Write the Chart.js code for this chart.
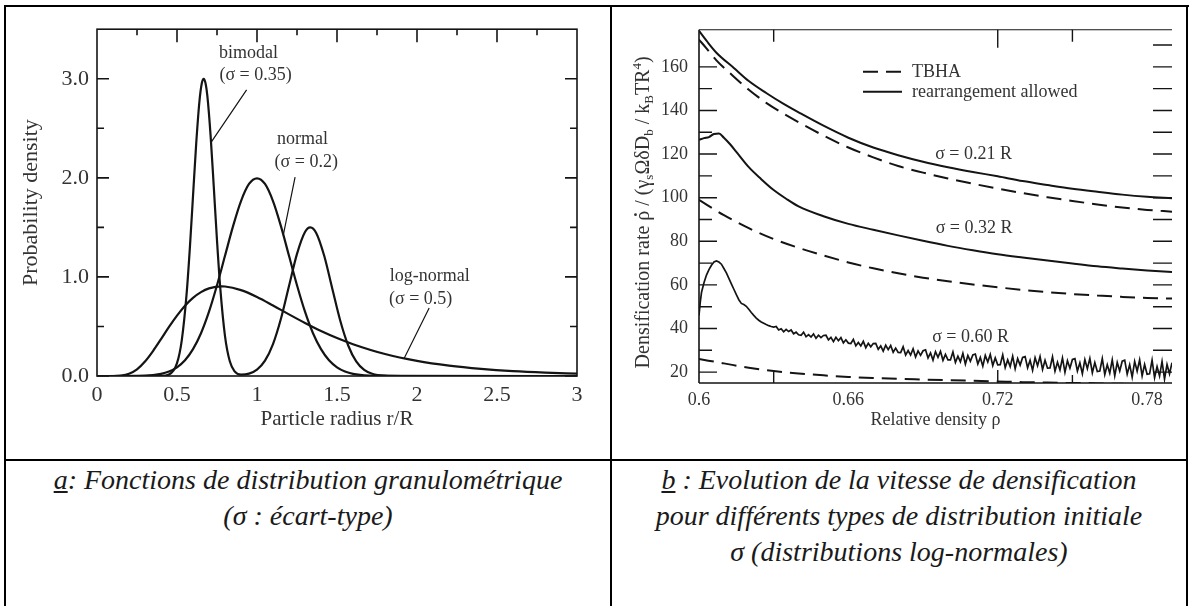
<!DOCTYPE html>
<html>
<head>
<meta charset="utf-8">
<script src="https://cdn.jsdelivr.net/npm/chart.js@4.4.0/dist/chart.umd.min.js"></script>
<style>
  html, body { margin: 0; padding: 0; background: #fff; }
  #page { position: relative; width: 1191px; height: 606px; overflow: hidden; background: #fff; }
  .rule { position: absolute; background: #000; }
  .cell { position: absolute; }
  .caption {
    position: absolute; top: 462px;
    font-family: 'Liberation Serif', serif; font-style: italic;
    font-size: 28px; line-height: 36px; color: #1a1a1a; text-align: center;
  }
</style>
</head>
<body>
<div id="page">
  <div class="rule" style="left:4px; top:5px; width:1185px; height:2px"></div>
  <div class="rule" style="left:4px; top:5px; width:2px; height:601px"></div>
  <div class="rule" style="left:610px; top:5px; width:2px; height:601px"></div>
  <div class="rule" style="left:1186px; top:5px; width:2px; height:601px"></div>
  <div class="rule" style="left:4px; top:459px; width:1184px; height:2px"></div>

  <div class="cell" style="left:6px; top:8px"><canvas id="chartA" width="604" height="451"></canvas></div>
  <div class="cell" style="left:612px; top:8px"><canvas id="chartB" width="574" height="451"></canvas></div>

  <div class="caption" style="left:6px; width:604px"><u>a</u>: Fonctions de distribution granulométrique<br>(σ : écart-type)</div>
  <div class="caption" style="left:612px; width:574px"><u>b</u> : Evolution de la vitesse de densification<br>pour différents types de distribution initiale<br>σ (distributions log-normales)</div>
</div>

<script>
// ---- chart a : particle size distributions ----
const radiusBimodal = [0, 0.3, 0.4, 0.45, 0.5, 0.53, 0.56, 0.58, 0.6, 0.62, 0.64, 0.655, 0.667, 0.678, 0.69, 0.71, 0.73, 0.75, 0.77, 0.8, 0.83, 0.86, 0.9, 0.95, 1.0, 1.05, 1.1, 1.15, 1.2, 1.25, 1.3, 1.333, 1.37, 1.42, 1.47, 1.52, 1.57, 1.62, 1.67, 1.72, 1.8, 1.9, 3.0];
const densityBimodal = [0, 0, 0.001, 0.015, 0.13, 0.363, 0.828, 1.283, 1.815, 2.345, 2.768, 2.954, 3.0, 2.957, 2.821, 2.426, 1.906, 1.368, 0.897, 0.403, 0.148, 0.047, 0.014, 0.024, 0.065, 0.155, 0.322, 0.58, 0.908, 1.233, 1.454, 1.5, 1.444, 1.213, 0.885, 0.56, 0.308, 0.147, 0.061, 0.022, 0.003, 0, 0];

const radiusNormal = [0, 0.3, 0.4, 0.45, 0.5, 0.55, 0.6, 0.65, 0.7, 0.75, 0.8, 0.85, 0.9, 0.95, 1.0, 1.05, 1.1, 1.15, 1.2, 1.25, 1.3, 1.35, 1.4, 1.45, 1.5, 1.55, 1.6, 1.7, 1.8, 3.0];
const densityNormal = [0, 0.004, 0.022, 0.046, 0.088, 0.159, 0.271, 0.432, 0.649, 0.916, 1.213, 1.51, 1.765, 1.938, 1.995, 1.938, 1.765, 1.51, 1.213, 0.916, 0.649, 0.432, 0.271, 0.159, 0.088, 0.046, 0.022, 0.004, 0.001, 0];

const radiusLogNormal = [0, 0.1, 0.15, 0.2, 0.25, 0.3, 0.35, 0.4, 0.45, 0.5, 0.55, 0.6, 0.65, 0.7, 0.78, 0.8, 0.9, 1.0, 1.1, 1.2, 1.3, 1.4, 1.5, 1.6, 1.8, 2.0, 2.2, 2.4, 2.6, 2.8, 3.0];
const densityLogNormal = [0, 0.0002, 0.004, 0.023, 0.068, 0.147, 0.252, 0.372, 0.496, 0.61, 0.71, 0.789, 0.847, 0.884, 0.904, 0.903, 0.867, 0.798, 0.712, 0.622, 0.535, 0.454, 0.383, 0.321, 0.222, 0.153, 0.105, 0.072, 0.049, 0.034, 0.024];

const aXTicks = [0, 0.5, 1, 1.5, 2, 2.5, 3];
const aXTickLabels = ['0', '0.5', '1', '1.5', '2', '2.5', '3'];
const aYTicks = [0, 1, 2, 3];
const aYTickLabels = ['0.0', '1.0', '2.0', '3.0'];

// ---- chart b : densification rate ----
const rhoA = [0.600, 0.603, 0.607, 0.614, 0.620, 0.627, 0.634, 0.641, 0.650, 0.660, 0.670, 0.680, 0.690, 0.700, 0.710, 0.720, 0.730, 0.740, 0.750, 0.760, 0.770, 0.780, 0.790];
const rateRearr021 = [176.5, 172, 166.5, 159.5, 153.5, 148, 143, 138.5, 133, 127.5, 123, 119.5, 116.5, 114, 111.8, 109.8, 107.6, 105.8, 104.1, 102.7, 101.4, 100.4, 99.7];
const rateTbha021 = [172.5, 168.5, 163, 155.5, 149.5, 143.5, 138.5, 134, 128.5, 123, 118.5, 114.5, 111.5, 108.8, 106.4, 104.2, 102.1, 100.2, 98.5, 96.9, 95.5, 94.4, 93.6];

const rhoB = [0.600, 0.602, 0.604, 0.606, 0.608, 0.610, 0.6125, 0.615, 0.620, 0.625, 0.630, 0.635, 0.640, 0.650, 0.660, 0.670, 0.680, 0.690, 0.700, 0.710, 0.720, 0.730, 0.740, 0.750, 0.760, 0.770, 0.780, 0.790];
const rateRearr032 = [126.5, 127.3, 127.8, 129.2, 129.4, 127.5, 124.5, 121, 114, 108.5, 103.5, 99.5, 96, 91.5, 88, 85.3, 82.7, 80.2, 77.9, 75.9, 74.1, 72.6, 71.2, 69.8, 68.5, 67.5, 66.6, 65.9];

const rhoC = [0.600, 0.610, 0.620, 0.630, 0.640, 0.650, 0.660, 0.670, 0.680, 0.690, 0.700, 0.710, 0.720, 0.730, 0.740, 0.750, 0.760, 0.770, 0.780, 0.790];
const rateTbha032 = [99, 92, 86, 81, 77, 73.5, 70.3, 67.6, 65.3, 63.3, 61.7, 60.2, 58.9, 57.7, 56.7, 55.8, 55.1, 54.5, 54.0, 53.7];
const rateTbha060 = [26, 24, 22, 20.5, 19.4, 18.5, 17.8, 17.3, 16.9, 16.6, 16.3, 16.0, 15.7, 15.4, 15.2, 15.0, 14.8, 14.6, 14.5, 14.4];

const rhoNoisy = [0.600, 0.6005, 0.601, 0.602, 0.603, 0.604, 0.605, 0.606, 0.607, 0.608, 0.609, 0.610, 0.611, 0.612, 0.613, 0.614, 0.615, 0.616, 0.617, 0.618, 0.619, 0.620, 0.621, 0.622, 0.623, 0.624, 0.625, 0.626, 0.627, 0.628, 0.629, 0.630,
  0.631, 0.632, 0.633, 0.634, 0.635, 0.636, 0.637, 0.638, 0.639, 0.640,
  0.641, 0.642, 0.643, 0.644, 0.645, 0.646, 0.647, 0.648, 0.649, 0.650,
  0.651, 0.652, 0.653, 0.654, 0.655, 0.656, 0.657, 0.658, 0.659, 0.660,
  0.661, 0.662, 0.663, 0.664, 0.665, 0.666, 0.667, 0.668, 0.669, 0.670,
  0.671, 0.672, 0.673, 0.674, 0.675, 0.676, 0.677, 0.678, 0.679, 0.680,
  0.681, 0.682, 0.683, 0.684, 0.685, 0.686, 0.687, 0.688, 0.689, 0.690,
  0.691, 0.692, 0.693, 0.694, 0.695, 0.696, 0.697, 0.698, 0.699, 0.700,
  0.701, 0.702, 0.703, 0.704, 0.705, 0.706, 0.707, 0.708, 0.709, 0.710,
  0.711, 0.712, 0.713, 0.714, 0.715, 0.716, 0.717, 0.718, 0.719, 0.720,
  0.721, 0.722, 0.723, 0.724, 0.725, 0.726, 0.727, 0.728, 0.729, 0.730,
  0.731, 0.732, 0.733, 0.734, 0.735, 0.736, 0.737, 0.738, 0.739, 0.740,
  0.741, 0.742, 0.743, 0.744, 0.745, 0.746, 0.747, 0.748, 0.749, 0.750,
  0.751, 0.752, 0.753, 0.754, 0.755, 0.756, 0.757, 0.758, 0.759, 0.760,
  0.761, 0.762, 0.763, 0.764, 0.765, 0.766, 0.767, 0.768, 0.769, 0.770,
  0.771, 0.772, 0.773, 0.774, 0.775, 0.776, 0.777, 0.778, 0.779, 0.780,
  0.781, 0.782, 0.783, 0.784, 0.785, 0.786, 0.787, 0.788, 0.789, 0.790];
const rateRearr060 = [46, 52, 56.5, 61, 64.5, 67, 69, 70.5, 71, 70.5, 69.5, 67.5, 65.5, 63, 60.5, 58, 55.5, 53.2, 51.5, 51, 50.2, 48.8, 47.3, 46, 44.8, 43.8, 43, 42.4, 41.8, 41.3, 40.9, 40.6,
  40.9, 39.3, 39.9, 38.5, 39.6, 38.6, 39.3, 37.6, 38.3, 37.1,
  36.9, 38.3, 36.2, 37.2, 36.1, 37.5, 35.5, 36.9, 35.8, 36.8,
  36.9, 34.8, 35.9, 34.0, 36.0, 34.4, 35.8, 33.4, 34.8, 33.3,
  33.1, 35.0, 32.1, 33.6, 32.0, 34.1, 31.2, 33.2, 31.6, 33.1,
  33.2, 30.5, 32.0, 29.6, 32.3, 30.3, 32.2, 29.1, 31.0, 29.0,
  28.9, 31.6, 27.8, 29.9, 27.8, 30.7, 26.9, 29.7, 27.7, 29.8,
  30.2, 26.5, 28.8, 25.5, 29.4, 26.8, 29.5, 25.4, 28.1, 25.6,
  25.6, 29.2, 24.4, 27.3, 24.7, 28.6, 23.7, 27.6, 25.0, 27.9,
  28.3, 23.7, 26.7, 22.7, 27.6, 24.6, 28.1, 23.0, 26.5, 23.3,
  23.4, 27.9, 22.1, 25.6, 22.5, 27.3, 21.5, 26.2, 23.2, 26.7,
  27.1, 22.0, 25.4, 20.8, 26.6, 22.9, 27.1, 21.2, 25.4, 21.8,
  21.9, 27.0, 20.4, 24.5, 21.0, 26.5, 19.9, 25.2, 21.8, 25.8,
  26.2, 20.5, 24.3, 19.3, 25.7, 21.6, 26.3, 19.7, 24.4, 20.3,
  20.5, 26.2, 18.9, 23.4, 19.5, 25.6, 18.3, 24.4, 20.5, 25.0,
  25.5, 19.1, 23.4, 17.7, 24.9, 20.4, 25.6, 18.3, 23.5, 19.0,
  19.2, 25.5, 17.4, 22.5, 18.2, 24.9, 16.8, 23.5, 19.2, 24.3];

const bXTicks = [0.6, 0.66, 0.72, 0.78];
const bXTickLabels = ['0.6', '0.66', '0.72', '0.78'];
const bYTicks = [20, 40, 60, 80, 100, 120, 140, 160];
const bYTickLabels = ['20', '40', '60', '80', '100', '120', '140', '160'];

// ---------------------------------------------------------------
Chart.defaults.font.family = "'Liberation Serif', 'Times New Roman', serif";
Chart.defaults.color = '#333';
const INK = '#141414';
const TXT = '#333';
const pairs = (xs, ys) => xs.map((x, i) => ({ x: x, y: ys[i] }));

function line(ctx, x1, y1, x2, y2) { ctx.moveTo(x1, y1); ctx.lineTo(x2, y2); }

// annotation placement (data coordinates)
const notesA = [
  { text: 'bimodal', x: 0.762, y: 3.26 },
  { text: '(σ = 0.35)', x: 0.765, y: 3.04 },
  { text: 'normal', x: 1.125, y: 2.385 },
  { text: '(σ = 0.2)', x: 1.11, y: 2.155 },
  { text: 'log-normal', x: 1.83, y: 1.01 },
  { text: '(σ = 0.5)', x: 1.825, y: 0.77 }
];
const leadersA = [
  [0.935, 2.887, 0.716, 2.366],
  [1.238, 2.007, 1.164, 1.42],
  [2.076, 0.686, 1.92, 0.18]
];

const decorA = {
  id: 'decorA',
  afterDatasetsDraw(chart) {
    const { ctx, chartArea: a } = chart;
    const sx = chart.scales.x, sy = chart.scales.y;
    ctx.save();
    ctx.strokeStyle = INK;
    ctx.lineWidth = 1.6;
    ctx.strokeRect(a.left, a.top, a.right - a.left, a.bottom - a.top);
    ctx.beginPath();
    [0, 1, 2, 3].forEach(v => {
      const p = sy.getPixelForValue(v);
      line(ctx, a.left, p, a.left + 12, p);
      line(ctx, a.right, p, a.right - 12, p);
    });
    [0.5, 1.5, 2.5].forEach(v => {
      const p = sy.getPixelForValue(v);
      line(ctx, a.left, p, a.left + 7, p);
      line(ctx, a.right, p, a.right - 7, p);
    });
    [0.5, 1, 1.5, 2, 2.5].forEach(v => {
      const p = sx.getPixelForValue(v);
      line(ctx, p, a.top, p, a.top + 13);
    });
    [0.25, 0.75, 1.25, 1.75, 2.25, 2.75].forEach(v => {
      const p = sx.getPixelForValue(v);
      line(ctx, p, a.top, p, a.top + 6);
    });
    ctx.stroke();

    ctx.lineWidth = 1.2;
    ctx.beginPath();
    leadersA.forEach(l => line(ctx, sx.getPixelForValue(l[0]), sy.getPixelForValue(l[1]),
      sx.getPixelForValue(l[2]), sy.getPixelForValue(l[3])));
    ctx.stroke();

    ctx.fillStyle = TXT;
    ctx.font = "18px 'Liberation Serif'";
    ctx.textBaseline = 'middle';
    ctx.textAlign = 'left';
    notesA.forEach(n => ctx.fillText(n.text, sx.getPixelForValue(n.x), sy.getPixelForValue(n.y)));
    ctx.restore();
  }
};

const curveStyle = { borderColor: INK, borderWidth: 2.2, pointRadius: 0, fill: false, cubicInterpolationMode: 'monotone' };

new Chart(document.getElementById('chartA'), {
  type: 'line',
  data: {
    datasets: [
      Object.assign({ label: 'bimodal', data: pairs(radiusBimodal, densityBimodal) }, curveStyle),
      Object.assign({ label: 'normal', data: pairs(radiusNormal, densityNormal) }, curveStyle),
      Object.assign({ label: 'log-normal', data: pairs(radiusLogNormal, densityLogNormal) }, curveStyle)
    ]
  },
  options: {
    responsive: false,
    animation: false,
    layout: { padding: { left: 0, top: 6, right: 33, bottom: 0 } },
    plugins: { legend: { display: false }, tooltip: { enabled: false } },
    scales: {
      x: {
        type: 'linear', min: 0, max: 3,
        afterBuildTicks: s => { s.ticks = aXTicks.map(v => ({ value: v })); },
        afterFit: s => { s.height = 83; },
        grid: { display: false, drawTicks: false },
        border: { display: false },
        ticks: { padding: 6, color: TXT, font: { size: 22 }, maxRotation: 0, callback: (v, i) => aXTickLabels[i] },
        title: { display: true, text: 'Particle radius r/R', color: TXT, font: { size: 21 }, padding: { top: 0, bottom: 27 } }
      },
      y: {
        type: 'linear', min: 0, max: 3.5,
        afterBuildTicks: s => { s.ticks = aYTicks.map(v => ({ value: v })); },
        afterFit: s => { s.width = 91; },
        grid: { display: false, drawTicks: false },
        border: { display: false },
        ticks: { padding: 8, color: TXT, font: { size: 22 }, callback: (v, i) => aYTickLabels[i] },
        title: { display: true, text: 'Probability density', color: TXT, font: { size: 22 }, padding: { top: 12, bottom: 0 } }
      }
    }
  },
  plugins: [decorA]
});

// ---------------------------------------------------------------
const notesB = [
  { text: 'σ = 0.21 R', x: 0.7103, y: 120 },
  { text: 'σ = 0.32 R', x: 0.7105, y: 86.2 },
  { text: 'σ = 0.60 R', x: 0.7091, y: 36.2 }
];

function drawRateTitle(ctx, cx, cy) {
  // [text, kind] kind: 0 normal, 1 subscript, 2 superscript, 3 rho with dot
  const parts = [['Densification rate ', 0], ['ρ', 3], [' / (γ', 0], ['s', 1], ['ΩδD', 0], ['b', 1],
    [' / k', 0], ['B', 1], ['TR', 0], ['4', 2], [')', 0]];
  const big = "20px 'Liberation Serif'", small = "13px 'Liberation Serif'";
  ctx.save();
  ctx.translate(cx, cy);
  ctx.rotate(-Math.PI / 2);
  ctx.fillStyle = TXT;
  ctx.textBaseline = 'alphabetic';
  ctx.textAlign = 'left';
  let total = 0;
  parts.forEach(p => { ctx.font = (p[1] === 1 || p[1] === 2) ? small : big; total += ctx.measureText(p[0]).width; });
  let xx = -total / 2;
  const base = 6;
  parts.forEach(p => {
    ctx.font = (p[1] === 1 || p[1] === 2) ? small : big;
    const off = p[1] === 1 ? 4 : p[1] === 2 ? -8 : 0;
    ctx.fillText(p[0], xx, base + off);
    const w = ctx.measureText(p[0]).width;
    if (p[1] === 3) {
      ctx.beginPath();
      ctx.arc(xx + w / 2 + 1, base - 13.5, 1.4, 0, Math.PI * 2);
      ctx.fill();
    }
    xx += w;
  });
  ctx.restore();
}

const decorB = {
  id: 'decorB',
  afterDatasetsDraw(chart) {
    const { ctx, chartArea: a } = chart;
    const sx = chart.scales.x, sy = chart.scales.y;
    ctx.save();
    ctx.strokeStyle = INK;
    ctx.lineWidth = 1.6;
    ctx.beginPath();
    line(ctx, a.left, a.top, a.left, a.bottom);
    line(ctx, a.left, a.bottom, a.right, a.bottom);
    ctx.stroke();
    ctx.lineWidth = 1.1;
    ctx.beginPath();
    line(ctx, a.left, a.top, a.right, a.top);
    ctx.stroke();

    ctx.lineWidth = 1.4;
    ctx.beginPath();
    [20, 40, 60, 80, 100, 120, 140, 160].forEach(v => {
      const p = sy.getPixelForValue(v);
      line(ctx, a.left, p, a.left + 18, p);
    });
    [30, 50, 70, 90, 110, 130, 150].forEach(v => {
      const p = sy.getPixelForValue(v);
      line(ctx, a.left, p, a.left + 13, p);
    });
    [20, 30, 40, 50, 60, 70, 80, 90, 100, 110, 120, 130, 140, 150, 160, 170].forEach(v => {
      const p = sy.getPixelForValue(v);
      line(ctx, a.right - 19, p, a.right, p);
    });
    [[0.63, 12, 12], [0.72, 18, 13], [0.75, 12, 8]].forEach(t => {
      const p = sx.getPixelForValue(t[0]);
      line(ctx, p, a.top, p, a.top + t[1]);
      line(ctx, p, a.bottom, p, a.bottom - t[2]);
    });
    ctx.stroke();

    // legend
    const lx = a.left + 164, ly1 = a.top + 42, ly2 = a.top + 62;
    ctx.lineWidth = 2;
    ctx.setLineDash([15, 8]);
    ctx.beginPath(); line(ctx, lx, ly1, lx + 39, ly1); ctx.stroke();
    ctx.setLineDash([]);
    ctx.beginPath(); line(ctx, lx, ly2, lx + 39, ly2); ctx.stroke();
    ctx.fillStyle = TXT;
    ctx.font = "18px 'Liberation Serif'";
    ctx.textBaseline = 'middle';
    ctx.textAlign = 'left';
    ctx.fillText('TBHA', lx + 49, ly1);
    ctx.fillText('rearrangement allowed', lx + 49, ly2);

    ctx.textAlign = 'center';
    notesB.forEach(n => ctx.fillText(n.text, sx.getPixelForValue(n.x), sy.getPixelForValue(n.y)));
    ctx.restore();

    drawRateTitle(ctx, 31, (a.top + a.bottom) / 2 + 6);
  }
};

const solidB = { borderColor: INK, borderWidth: 2, pointRadius: 0, fill: false, cubicInterpolationMode: 'monotone' };
const dashB = { borderColor: INK, borderWidth: 2, pointRadius: 0, fill: false, cubicInterpolationMode: 'monotone', borderDash: [15, 8] };

new Chart(document.getElementById('chartB'), {
  type: 'line',
  data: {
    datasets: [
      Object.assign({ label: 'rearrangement 0.21', data: pairs(rhoA, rateRearr021) }, solidB),
      Object.assign({ label: 'TBHA 0.21', data: pairs(rhoA, rateTbha021) }, dashB),
      Object.assign({ label: 'rearrangement 0.32', data: pairs(rhoB, rateRearr032) }, solidB),
      Object.assign({ label: 'TBHA 0.32', data: pairs(rhoC, rateTbha032) }, dashB),
      Object.assign({ label: 'rearrangement 0.60', data: pairs(rhoNoisy, rateRearr060) }, solidB, { borderWidth: 1.7, cubicInterpolationMode: 'default', tension: 0 }),
      Object.assign({ label: 'TBHA 0.60', data: pairs(rhoC, rateTbha060) }, dashB)
    ]
  },
  options: {
    responsive: false,
    animation: false,
    layout: { padding: { left: 0, top: 10, right: 14, bottom: 0 } },
    plugins: { legend: { display: false }, tooltip: { enabled: false } },
    scales: {
      x: {
        type: 'linear', min: 0.6, max: 0.79,
        afterBuildTicks: s => { s.ticks = bXTicks.map(v => ({ value: v })); },
        afterFit: s => { s.height = 76; },
        grid: { display: false, drawTicks: false },
        border: { display: false },
        ticks: { padding: 6, color: TXT, font: { size: 18 }, maxRotation: 0, callback: (v, i) => bXTickLabels[i] },
        title: { display: true, text: 'Relative density ρ', color: TXT, font: { size: 18 }, padding: { top: 0, bottom: 28 } }
      },
      y: {
        type: 'linear', min: 15, max: 177,
        afterBuildTicks: s => { s.ticks = bYTicks.map(v => ({ value: v })); },
        afterFit: s => { s.width = 87; },
        grid: { display: false, drawTicks: false },
        border: { display: false },
        ticks: { padding: 11, color: TXT, font: { size: 18 }, callback: (v, i) => bYTickLabels[i] },
        title: { display: false }
      }
    }
  },
  plugins: [decorB]
});
</script>
</body>
</html>
